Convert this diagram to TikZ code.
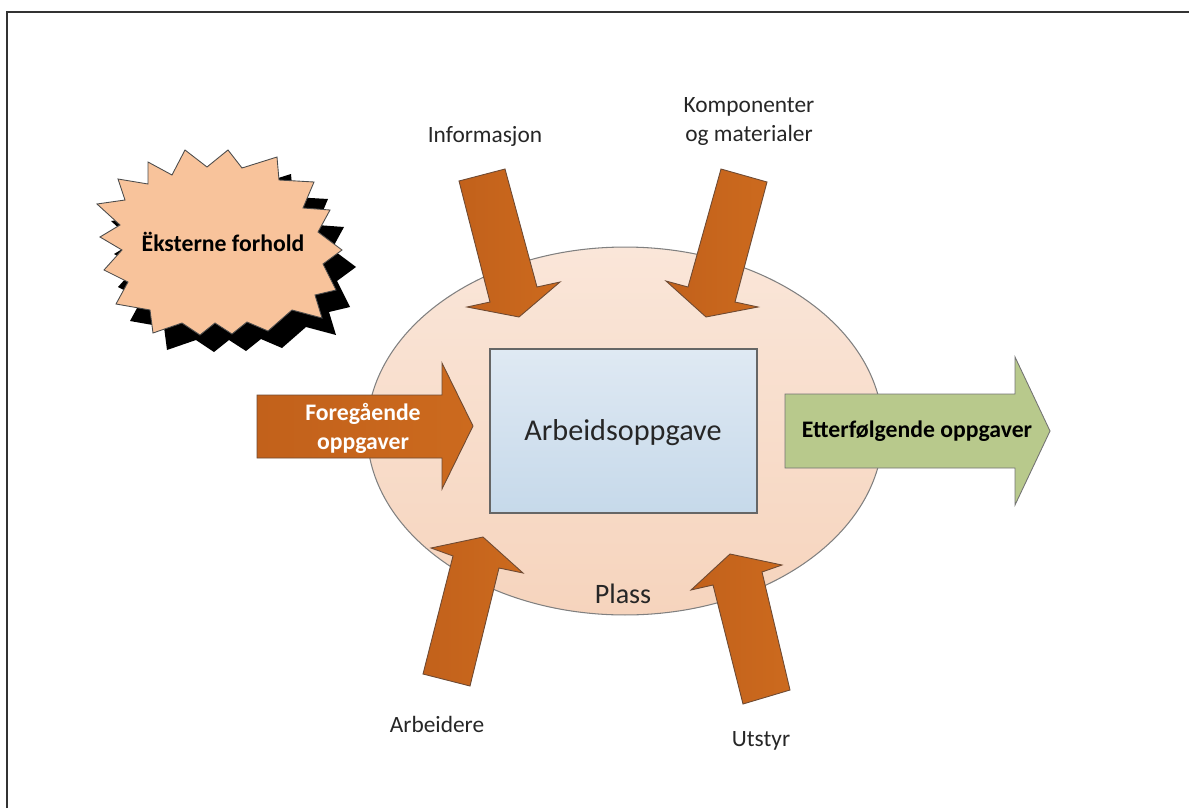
\documentclass[tikz,border=0pt]{standalone}
\usepackage{fontspec}
\setmainfont{Carlito}
\usetikzlibrary{shapes.geometric}
\definecolor{orangeA}{HTML}{C2611B}
\definecolor{orangeB}{HTML}{CC6A1E}
\definecolor{arrowline}{HTML}{6E4A33}
\definecolor{ellTop}{HTML}{FAE6D9}
\definecolor{ellBot}{HTML}{F6D4BD}
\definecolor{boxTop}{HTML}{DFE9F3}
\definecolor{boxBot}{HTML}{C6D9EA}
\definecolor{burstfill}{HTML}{F8C39B}
\definecolor{greenarrow}{HTML}{B8C98C}
\definecolor{labeltext}{HTML}{262626}
\begin{document}
\begin{tikzpicture}[x=0.02cm,y=-0.02cm,
  lbl/.style={font=\fontsize{13.3}{16.5}\selectfont, text=labeltext, align=center, inner sep=0pt},
  boldlbl/.style={font=\fontsize{13.5}{16.5}\selectfont\bfseries, align=center, inner sep=0pt},
  blockarrow/.style={draw=arrowline, line width=0.5pt, left color=orangeA, right color=orangeB},
  burstpic/.pic={\path[pic actions] (185,150) -- (207,167) -- (228,150) -- (242,168) -- (277,157) -- (279,180) -- (314,182) -- (303,208) -- (330,210) -- (318,232) -- (342,250) -- (323,264) -- (336,290) -- (315,295) -- (322,318) -- (292,310) -- (268,331) -- (247,322) -- (232,334) -- (215,323) -- (200,335) -- (182,323) -- (153,333) -- (150,310) -- (116,304) -- (128,282) -- (104,270) -- (122,250) -- (100,237) -- (120,225) -- (97,204) -- (125,200) -- (118,179) -- (148,184) -- (148,162) -- (172,175) -- cycle;}
]
\useasboundingbox (0,0) rectangle (1189,808);
% frame
\draw[line width=1.1pt, color=black!80] (7,808) -- (7,12) -- (1189,12);

% external conditions starburst
\pic[fill=black] at (14,17) {burstpic};
\pic[fill=burstfill, draw=black!70, line width=0.5pt] at (0,0) {burstpic};
\node[boldlbl] (ext) at (223,242) {Ëksterne forhold};

% place ellipse
\node[ellipse, draw=black!50, line width=0.6pt, top color=ellTop, bottom color=ellBot,
      minimum width=10.32cm, minimum height=7.36cm, inner sep=0pt] (place) at (625,431) {};
\node[font=\fontsize{16}{19}\selectfont, text=labeltext, anchor=base, inner sep=0pt] (plass) at (623,603) {Plass};

% task box
\node[draw=black!60, line width=0.7pt, top color=boxTop, bottom color=boxBot,
      minimum width=5.34cm, minimum height=3.28cm, inner sep=0pt] (task) at (623.5,431) {};
\node[font=\fontsize{17.2}{20}\selectfont, text=labeltext, anchor=base, inner sep=0pt] (tasklbl) at (623,440) {Arbeidsoppgave};

% block arrows
\path[blockarrow] (459,181) -- (505,169) -- (537,287) -- (560,282) -- (519,317) -- (467,307) -- (490,302) -- cycle;
\path[blockarrow] (721,169) -- (767,182) -- (735,302) -- (758,307) -- (706,317) -- (666,281) -- (688,287) -- cycle;
\path[blockarrow] (483,537) -- (523,573) -- (499,568) -- (470,686) -- (423,674) -- (453,556) -- (431,548) -- cycle;
\path[blockarrow] (730,554) -- (782,565) -- (762,572) -- (790,690) -- (743,704) -- (713,585) -- (691,590) -- cycle;
\path[blockarrow] (257,395) -- (442,395) -- (442,363) -- (473,426) -- (442,489) -- (442,458) -- (257,458) -- cycle;
\path[draw=black!55, line width=0.5pt, fill=greenarrow] (785,394) -- (1015,394) -- (1015,357) -- (1050,431) -- (1015,505) -- (1015,468) -- (785,468) -- cycle;

% arrow texts
\node[boldlbl, text=white] (prev) at (363,428) {Foregående\\oppgaver};
\node[boldlbl, text=black, anchor=base] (next) at (917,437) {Etterfølgende oppgaver};

% input labels
\node[lbl, anchor=base] (info) at (485,142) {Informasjon};
\node[lbl] (komp) at (749,122) {Komponenter\\og materialer};
\node[lbl, anchor=base] (arb) at (437,732) {Arbeidere};
\node[lbl, anchor=base] (utstyr) at (761,746) {Utstyr};
\end{tikzpicture}
\end{document}
